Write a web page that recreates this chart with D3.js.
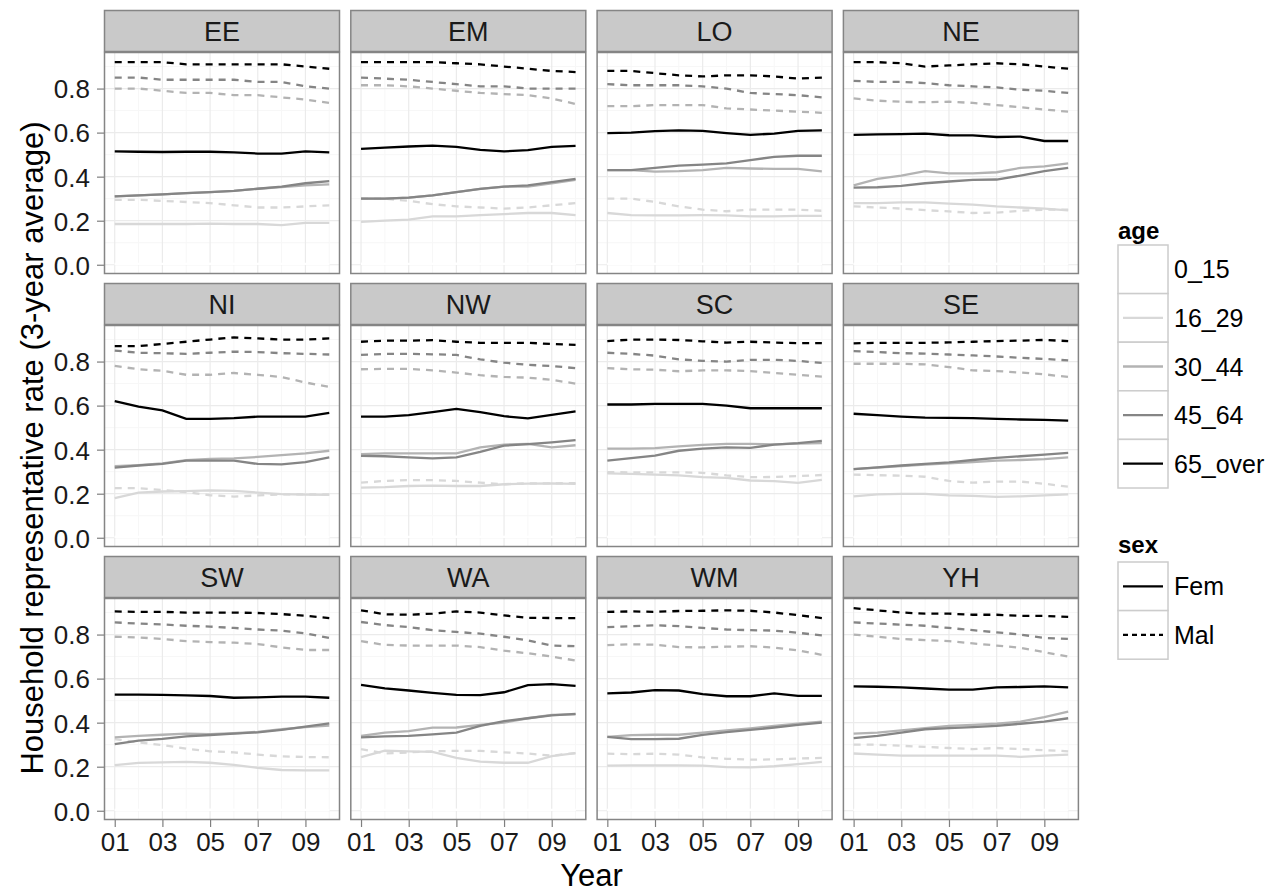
<!DOCTYPE html>
<html><head><meta charset="utf-8">
<script src="https://cdn.jsdelivr.net/npm/d3@7"></script>
<style>body{margin:0;background:#fff} text{font-family:"Liberation Sans",Arial,sans-serif}</style>
</head><body><svg id="c" width="1286" height="895"></svg>
<script>
const years = [1,2,3,4,5,6,7,8,9,10];
const xTicks = [1,3,5,7,9];
const xTickLabels = ["01","03","05","07","09"];
const yTicks = [0,0.2,0.4,0.6,0.8];
const yTickLabels = ["0.0","0.2","0.4","0.6","0.8"];
const regions = ["EE","EM","LO","NE","NI","NW","SC","SE","SW","WA","WM","YH"];
const ages = ["0_15","16_29","30_44","45_64","65_over"];
const sexes = ["Fem","Mal"];
const ageColours = ["#ffffff","#d8d8d8","#b3b3b3","#858585","#000000"];

// 0_15 (both sexes, every region): practically zero
const age0_15 = [0.004,0.004,0.004,0.004,0.004,0.004,0.004,0.004,0.004,0.004];

// each region: rows = 16_29 Fem, 16_29 Mal, 30_44 Fem, 30_44 Mal, 45_64 Fem, 45_64 Mal, 65_over Fem, 65_over Mal
const EE = [
 [0.185,0.185,0.185,0.185,0.187,0.185,0.185,0.18,0.19,0.19],
 [0.295,0.295,0.29,0.285,0.28,0.27,0.26,0.26,0.265,0.27],
 [0.31,0.315,0.32,0.325,0.33,0.335,0.345,0.352,0.36,0.365],
 [0.80,0.80,0.79,0.78,0.78,0.77,0.77,0.76,0.75,0.735],
 [0.31,0.315,0.32,0.325,0.33,0.335,0.345,0.355,0.37,0.38],
 [0.85,0.85,0.84,0.84,0.84,0.84,0.83,0.83,0.81,0.80],
 [0.515,0.513,0.512,0.513,0.513,0.51,0.505,0.505,0.515,0.51],
 [0.92,0.92,0.92,0.91,0.91,0.91,0.91,0.91,0.90,0.89]];
const EM = [
 [0.195,0.20,0.205,0.22,0.22,0.225,0.23,0.235,0.235,0.225],
 [0.30,0.30,0.29,0.275,0.265,0.26,0.255,0.26,0.27,0.28],
 [0.30,0.30,0.305,0.315,0.33,0.345,0.355,0.355,0.37,0.385],
 [0.815,0.815,0.81,0.80,0.79,0.78,0.775,0.77,0.755,0.73],
 [0.30,0.30,0.305,0.315,0.33,0.345,0.355,0.36,0.375,0.39],
 [0.85,0.845,0.84,0.83,0.82,0.81,0.81,0.80,0.80,0.80],
 [0.526,0.532,0.537,0.541,0.535,0.522,0.515,0.52,0.535,0.54],
 [0.92,0.92,0.92,0.92,0.915,0.91,0.90,0.89,0.88,0.875]];
const LO = [
 [0.235,0.225,0.224,0.224,0.225,0.224,0.22,0.22,0.222,0.222],
 [0.30,0.30,0.285,0.265,0.25,0.243,0.25,0.25,0.25,0.245],
 [0.43,0.43,0.423,0.425,0.43,0.44,0.437,0.435,0.435,0.424],
 [0.72,0.72,0.725,0.725,0.725,0.71,0.705,0.70,0.695,0.69],
 [0.43,0.43,0.44,0.45,0.455,0.46,0.475,0.49,0.495,0.495],
 [0.82,0.815,0.815,0.815,0.81,0.80,0.78,0.775,0.77,0.76],
 [0.598,0.60,0.607,0.61,0.608,0.598,0.59,0.595,0.608,0.61],
 [0.88,0.88,0.87,0.86,0.855,0.86,0.86,0.855,0.845,0.85]];
const NE = [
 [0.28,0.28,0.283,0.283,0.278,0.273,0.265,0.26,0.255,0.247],
 [0.265,0.26,0.255,0.248,0.242,0.235,0.237,0.245,0.25,0.25],
 [0.36,0.39,0.405,0.425,0.415,0.415,0.42,0.44,0.447,0.46],
 [0.755,0.745,0.74,0.738,0.74,0.735,0.725,0.715,0.705,0.695],
 [0.35,0.352,0.358,0.37,0.378,0.385,0.387,0.405,0.425,0.44],
 [0.835,0.83,0.83,0.825,0.815,0.81,0.805,0.795,0.79,0.78],
 [0.59,0.592,0.593,0.595,0.588,0.587,0.58,0.582,0.562,0.562],
 [0.92,0.92,0.915,0.90,0.905,0.91,0.915,0.91,0.90,0.89]];
const NI = [
 [0.18,0.205,0.21,0.212,0.215,0.213,0.205,0.198,0.196,0.195],
 [0.225,0.225,0.217,0.207,0.193,0.187,0.192,0.197,0.197,0.197],
 [0.325,0.33,0.338,0.352,0.358,0.36,0.367,0.375,0.383,0.395],
 [0.78,0.765,0.758,0.74,0.74,0.748,0.74,0.73,0.705,0.685],
 [0.318,0.328,0.335,0.35,0.35,0.35,0.335,0.333,0.343,0.365],
 [0.85,0.84,0.838,0.835,0.84,0.845,0.843,0.838,0.835,0.832],
 [0.62,0.595,0.578,0.54,0.54,0.543,0.55,0.55,0.55,0.567],
 [0.87,0.87,0.88,0.89,0.90,0.91,0.905,0.90,0.90,0.905]];
const NW = [
 [0.228,0.23,0.235,0.237,0.235,0.235,0.243,0.246,0.247,0.245],
 [0.25,0.258,0.262,0.262,0.258,0.25,0.243,0.247,0.247,0.248],
 [0.38,0.383,0.383,0.383,0.383,0.41,0.423,0.426,0.41,0.42],
 [0.765,0.767,0.767,0.76,0.75,0.738,0.73,0.727,0.717,0.70],
 [0.372,0.37,0.365,0.36,0.365,0.39,0.418,0.425,0.433,0.443],
 [0.83,0.835,0.835,0.833,0.83,0.81,0.795,0.785,0.78,0.77],
 [0.55,0.55,0.557,0.57,0.585,0.57,0.552,0.542,0.558,0.574],
 [0.89,0.895,0.895,0.897,0.89,0.885,0.885,0.885,0.88,0.876]];
const SC = [
 [0.292,0.29,0.287,0.283,0.275,0.272,0.26,0.257,0.249,0.263],
 [0.298,0.297,0.297,0.297,0.295,0.283,0.275,0.276,0.28,0.285],
 [0.405,0.405,0.407,0.415,0.422,0.426,0.426,0.424,0.427,0.43],
 [0.77,0.765,0.763,0.756,0.76,0.76,0.757,0.748,0.74,0.732],
 [0.35,0.362,0.373,0.395,0.405,0.41,0.408,0.423,0.43,0.44],
 [0.84,0.835,0.827,0.81,0.803,0.80,0.808,0.808,0.803,0.794],
 [0.605,0.605,0.608,0.608,0.608,0.60,0.588,0.588,0.588,0.588],
 [0.893,0.90,0.90,0.898,0.892,0.886,0.89,0.886,0.884,0.884]];
const SE = [
 [0.188,0.197,0.199,0.199,0.192,0.19,0.186,0.188,0.192,0.197],
 [0.287,0.284,0.282,0.277,0.258,0.25,0.255,0.255,0.245,0.232],
 [0.312,0.318,0.325,0.332,0.338,0.343,0.35,0.353,0.357,0.365],
 [0.79,0.79,0.79,0.787,0.775,0.76,0.757,0.75,0.742,0.73],
 [0.312,0.32,0.328,0.335,0.342,0.353,0.363,0.37,0.377,0.385],
 [0.847,0.843,0.838,0.836,0.832,0.828,0.823,0.817,0.812,0.805],
 [0.563,0.557,0.55,0.545,0.544,0.543,0.54,0.537,0.535,0.532],
 [0.883,0.885,0.885,0.885,0.887,0.89,0.893,0.895,0.898,0.893]];
const SW = [
 [0.207,0.217,0.22,0.222,0.218,0.208,0.195,0.185,0.183,0.183],
 [0.325,0.31,0.298,0.282,0.27,0.265,0.255,0.247,0.244,0.243],
 [0.333,0.34,0.345,0.35,0.348,0.352,0.358,0.37,0.38,0.387],
 [0.79,0.787,0.78,0.77,0.766,0.763,0.757,0.742,0.73,0.73],
 [0.303,0.318,0.326,0.338,0.344,0.35,0.356,0.367,0.382,0.397],
 [0.855,0.85,0.846,0.84,0.836,0.83,0.823,0.818,0.805,0.785],
 [0.527,0.527,0.526,0.524,0.521,0.513,0.515,0.518,0.518,0.513],
 [0.905,0.903,0.903,0.90,0.90,0.90,0.898,0.893,0.885,0.875]];
const WA = [
 [0.243,0.273,0.27,0.267,0.24,0.223,0.218,0.218,0.248,0.262],
 [0.28,0.26,0.265,0.27,0.272,0.272,0.265,0.26,0.25,0.262],
 [0.34,0.355,0.362,0.377,0.378,0.39,0.40,0.42,0.435,0.438],
 [0.77,0.753,0.75,0.75,0.75,0.743,0.727,0.715,0.70,0.682],
 [0.333,0.338,0.34,0.347,0.355,0.385,0.407,0.42,0.433,0.44],
 [0.857,0.843,0.834,0.82,0.812,0.804,0.79,0.773,0.75,0.747],
 [0.572,0.556,0.546,0.535,0.526,0.525,0.538,0.57,0.575,0.567],
 [0.91,0.892,0.89,0.895,0.905,0.90,0.887,0.876,0.875,0.875]];
const WM = [
 [0.205,0.206,0.206,0.206,0.205,0.198,0.197,0.202,0.212,0.222],
 [0.259,0.257,0.259,0.255,0.242,0.236,0.232,0.233,0.237,0.24],
 [0.335,0.343,0.345,0.345,0.355,0.365,0.374,0.385,0.395,0.405],
 [0.752,0.756,0.754,0.743,0.742,0.745,0.747,0.741,0.728,0.708],
 [0.335,0.325,0.325,0.327,0.345,0.357,0.367,0.378,0.39,0.40],
 [0.834,0.838,0.842,0.838,0.83,0.823,0.82,0.818,0.808,0.796],
 [0.533,0.537,0.548,0.546,0.53,0.52,0.52,0.533,0.522,0.522],
 [0.903,0.905,0.903,0.907,0.908,0.91,0.908,0.90,0.888,0.875]];
const YH = [
 [0.26,0.255,0.25,0.25,0.25,0.25,0.25,0.245,0.25,0.255],
 [0.30,0.30,0.295,0.29,0.285,0.28,0.285,0.28,0.275,0.27],
 [0.35,0.355,0.365,0.375,0.385,0.39,0.395,0.405,0.425,0.45],
 [0.80,0.79,0.78,0.775,0.77,0.76,0.75,0.74,0.72,0.70],
 [0.33,0.34,0.355,0.37,0.375,0.38,0.385,0.395,0.405,0.42],
 [0.855,0.85,0.845,0.84,0.83,0.82,0.81,0.80,0.785,0.78],
 [0.565,0.563,0.56,0.555,0.55,0.55,0.56,0.562,0.565,0.56],
 [0.92,0.91,0.90,0.895,0.895,0.89,0.89,0.885,0.885,0.88]];
const regionData = {EE,EM,LO,NE,NI,NW,SC,SE,SW,WA,WM,YH};

// ---- layout ----
const svg = d3.select("#c");
const colX0 = 104, colStep = 246.3, pw = 236;
const rowY0 = 10, rowStep = 273, stripH = 42, ph = 222;
const FONT = '"Liberation Sans",Arial,sans-serif';

const x = d3.scaleLinear().domain([0.55, 10.45]).range([0, pw]);
const y = d3.scaleLinear().domain([-0.042, 0.966]).range([ph, 0]);
const colour = d3.scaleOrdinal().domain(ages).range(ageColours);
const dash = d3.scaleOrdinal().domain(sexes).range([null, "7,6"]);

const line = d3.line().x((d,i) => x(years[i])).y(d => y(d));

regions.forEach((reg, idx) => {
  const c = idx % 4, r = Math.floor(idx / 4);
  const gx = colX0 + c * colStep, gy = rowY0 + r * rowStep;
  const g = svg.append("g").attr("transform", `translate(${gx},${gy})`);
  // strip
  g.append("rect").attr("x",0.5).attr("y",0.5).attr("width",pw-1).attr("height",stripH-1)
    .attr("fill","#c9c9c9").attr("stroke","#858585").attr("stroke-width",1.5);
  g.append("text").attr("x",pw/2).attr("y",stripH/2+10).attr("text-anchor","middle")
    .attr("font-size",27).attr("fill","#1a1a1a").text(reg);
  const p = g.append("g").attr("transform",`translate(0,${stripH})`);
  p.append("rect").attr("width",pw).attr("height",ph).attr("fill","#fff");
  // minor grid
  const yMinor = [0.1,0.3,0.5,0.7,0.9];
  const xMinor = [2,4,6,8,10];
  p.selectAll(".ym").data(yMinor).join("line").attr("x1",0).attr("x2",pw)
    .attr("y1",d=>y(d)).attr("y2",d=>y(d)).attr("stroke","#f7f7f7").attr("stroke-width",1);
  p.selectAll(".xm").data(xMinor).join("line").attr("y1",0).attr("y2",ph)
    .attr("x1",d=>x(d)).attr("x2",d=>x(d)).attr("stroke","#f7f7f7").attr("stroke-width",1);
  // major grid
  p.selectAll(".yg").data(yTicks).join("line").attr("x1",0).attr("x2",pw)
    .attr("y1",d=>y(d)).attr("y2",d=>y(d)).attr("stroke","#ebebeb").attr("stroke-width",1.2);
  p.selectAll(".xg").data(xTicks).join("line").attr("y1",0).attr("y2",ph)
    .attr("x1",d=>x(d)).attr("x2",d=>x(d)).attr("stroke","#ebebeb").attr("stroke-width",1.2);
  // series
  const rows = regionData[reg];
  const series = [];
  sexes.forEach(s => series.push({age:"0_15", sex:s, v:age0_15}));
  for (let a = 1; a < ages.length; a++) {
    sexes.forEach((s, si) => series.push({age:ages[a], sex:s, v:rows[(a-1)*2+si]}));
  }
  p.selectAll(".ser").data(series).join("path")
    .attr("d", d => line(d.v)).attr("fill","none")
    .attr("stroke", d => colour(d.age)).attr("stroke-width",2.3)
    .attr("stroke-dasharray", d => dash(d.sex));
  // border
  p.append("rect").attr("x",0.5).attr("y",0.5).attr("width",pw-1).attr("height",ph-1)
    .attr("fill","none").attr("stroke","#858585").attr("stroke-width",1.5);
  // y axis on first column
  if (c === 0) {
    const ya = p.append("g").call(d3.axisLeft(y).tickValues(yTicks)
      .tickFormat((d,i)=>yTickLabels[i]).tickSize(7).tickPadding(7));
    ya.select(".domain").remove();
    ya.selectAll("line").attr("stroke","#7f7f7f").attr("stroke-width",1.2);
    ya.selectAll("text").attr("font-size",26).attr("font-family",FONT).attr("fill","#1a1a1a").attr("dy","0.36em");
  }
  if (r === 2) {
    const xa = p.append("g").attr("transform",`translate(0,${ph})`)
      .call(d3.axisBottom(x).tickValues(xTicks).tickFormat((d,i)=>xTickLabels[i]).tickSize(7).tickPadding(6));
    xa.select(".domain").remove();
    xa.selectAll("line").attr("stroke","#7f7f7f").attr("stroke-width",1.2);
    xa.selectAll("text").attr("font-size",26).attr("font-family",FONT).attr("fill","#1a1a1a");
  }
});

// axis titles
svg.append("text").attr("x", colX0 + (3*colStep + pw)/2).attr("y", 886)
  .attr("text-anchor","middle").attr("font-size",31).attr("fill","#000").text("Year");
svg.append("text").attr("transform","translate(43,448) rotate(-90)")
  .attr("text-anchor","middle").attr("font-size",31).attr("fill","#000")
  .text("Household representative rate (3-year average)");

// legends
const lx = 1118, kw = 50, kh = 48.6;
const lg = svg.append("g");
lg.append("text").attr("x",lx).attr("y",239).attr("font-size",24).attr("font-weight","bold").text("age");
ages.forEach((a,i) => {
  const ky = 245 + i*kh;
  lg.append("rect").attr("x",lx).attr("y",ky).attr("width",kw).attr("height",kh)
    .attr("fill","#fff").attr("stroke","#cccccc").attr("stroke-width",1.5);
  lg.append("line").attr("x1",lx+5).attr("x2",lx+kw-5).attr("y1",ky+kh/2).attr("y2",ky+kh/2)
    .attr("stroke",colour(a)).attr("stroke-width",2.3);
  lg.append("text").attr("x",lx+kw+6).attr("y",ky+kh/2+9).attr("font-size",25).text(a);
});
lg.append("text").attr("x",lx).attr("y",553).attr("font-size",24).attr("font-weight","bold").text("sex");
sexes.forEach((s,i) => {
  const ky = 562 + i*kh;
  lg.append("rect").attr("x",lx).attr("y",ky).attr("width",kw).attr("height",kh)
    .attr("fill","#fff").attr("stroke","#cccccc").attr("stroke-width",1.5);
  lg.append("line").attr("x1",lx+5).attr("x2",lx+kw-5).attr("y1",ky+kh/2).attr("y2",ky+kh/2)
    .attr("stroke","#000").attr("stroke-width",2.3).attr("stroke-dasharray", s==="Mal" ? "5,4" : null);
  lg.append("text").attr("x",lx+kw+6).attr("y",ky+kh/2+9).attr("font-size",25).text(s);
});
</script></body></html>
